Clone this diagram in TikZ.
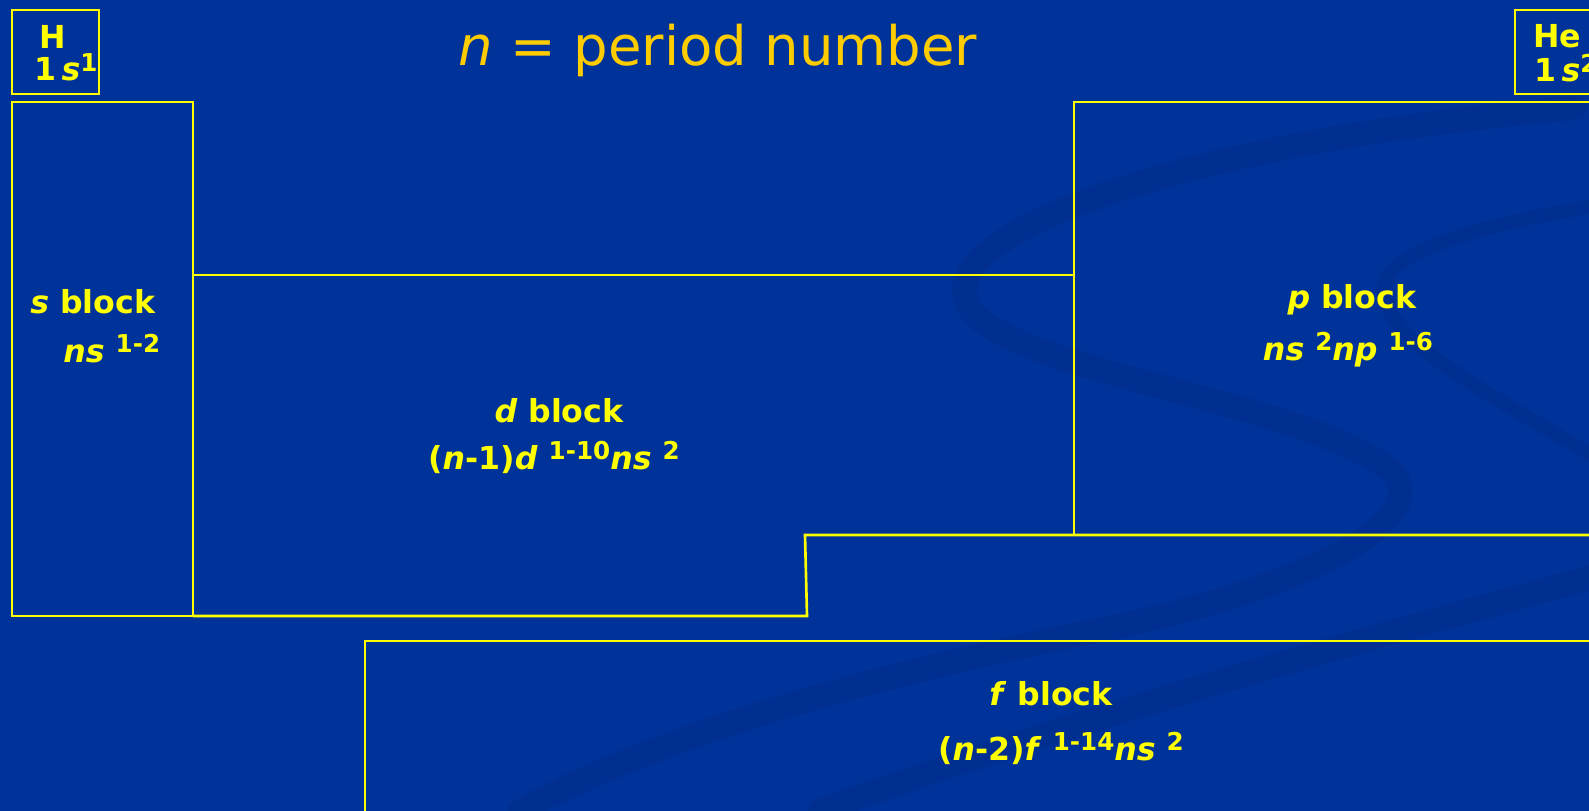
\documentclass[tikz,border=0pt]{standalone}
\usepackage{fontspec}
\setmainfont{DejaVu Sans}
\usepackage{xcolor}
\usetikzlibrary{positioning,calc}
\definecolor{bgblue}{RGB}{0,51,153}
\definecolor{swoosh}{RGB}{0,47,145}
\definecolor{lineyel}{RGB}{255,255,0}
\definecolor{titlegold}{RGB}{255,204,0}
\newcommand{\spr}[1]{\raisebox{0.3em}{\fontsize{14}{16}\selectfont #1}}
\tikzset{
  edge/.style={draw=lineyel,line width=1.5pt},             % block outlines
  lbl/.style={text=lineyel,font=\fontsize{18}{20}\selectfont\bfseries,
              inner sep=0pt,anchor=base},
  ttl/.style={text=titlegold,font=\fontsize{31}{34}\selectfont,
              inner sep=0pt,anchor=base},
  band/.style={draw=swoosh,line cap=round}                 % background swoosh
}

\begin{document}
\begin{tikzpicture}[x=0.02cm,y=-0.02cm]
  \useasboundingbox (0,0) rectangle (1589,811);
  \clip (0,0) rectangle (1589,811);
  \fill[bgblue] (0,0) rectangle (1589,811);

  % background swoosh
  \draw[band,line width=14pt] (1575,108) .. controls (1200,140) and (930,230) .. (968,305)
    .. controls (1000,370) and (1300,400) .. (1390,470)
    .. controls (1440,520) and (1300,590) .. (1100,630)
    .. controls (850,680) and (650,740) .. (520,811);
  \draw[band,line width=8pt] (1600,205) .. controls (1450,230) and (1370,260) .. (1385,300)
    .. controls (1400,350) and (1500,400) .. (1600,460);
  \draw[band,line width=14pt] (1600,575) .. controls (1400,630) and (1100,710) .. (820,811);

  % corners of the blocks
  \coordinate (hTL) at (12,10);    \coordinate (hBR) at (99,94);
  \coordinate (heTL) at (1515,10); \coordinate (heBR) at (1602,94);
  \coordinate (sTL) at (12,102);   \coordinate (sBR) at (193,616);
  \coordinate (dTL) at (193,275);  \coordinate (dTR) at (1074,275);
  \coordinate (dBR) at (807,616);  \coordinate (dStep) at (805,535);
  \coordinate (pTL) at (1074,102); \coordinate (pBL) at (1074,535);
  \coordinate (fTL) at (365,641);

  \draw[edge] (hTL) rectangle (hBR);
  \draw[edge] (heTL) rectangle (heBR);
  \draw[edge] (sTL) rectangle (sBR);
  \draw[edge] (dTL) -- (dTR);
  \draw[edge] (sBR) -- (dBR) -- (dStep) -- (1600,535);
  \draw[edge] (1600,102) -- (pTL) -- (pBL);
  \draw[edge] (1600,641) -- (fTL) -- (365,820);

  % texts
  \node[ttl] (title) at (718,66) {\textit{n} = period number};
  \node[lbl] (hname) at (53,49) {H};
  \node[lbl,anchor=base west] (hconf) at (34,81) {1\,\textit{s}\spr{1}};
  \node[lbl] (hename) at (1557,48) {He};
  \node[lbl,anchor=base west] (heconf) at (1534,82) {1\,\textit{s}\spr{2}};
  \node[lbl,anchor=base west] (sname) at (30,313) {\textit{s} block};
  \node[lbl,anchor=base west] (sconf) at (63,362) {\textit{ns} \spr{1-2}};
  \node[lbl] (pname) at (1352,308) {\textit{p} block};
  \node[lbl] (pconf) at (1348,360) {\textit{ns} \spr{2}\textit{np} \spr{1-6}};
  \node[lbl] (dname) at (559,422) {\textit{d} block};
  \node[lbl] (dconf) at (554,469) {(\textit{n}-1)\textit{d} \spr{1-10}\textit{ns} \spr{2}};
  \node[lbl] (fname) at (1051,705) {\textit{f} block};
  \node[lbl] (fconf) at (1061,760) {(\textit{n}-2)\textit{f} \spr{1-14}\textit{ns} \spr{2}};
\end{tikzpicture}
\end{document}
